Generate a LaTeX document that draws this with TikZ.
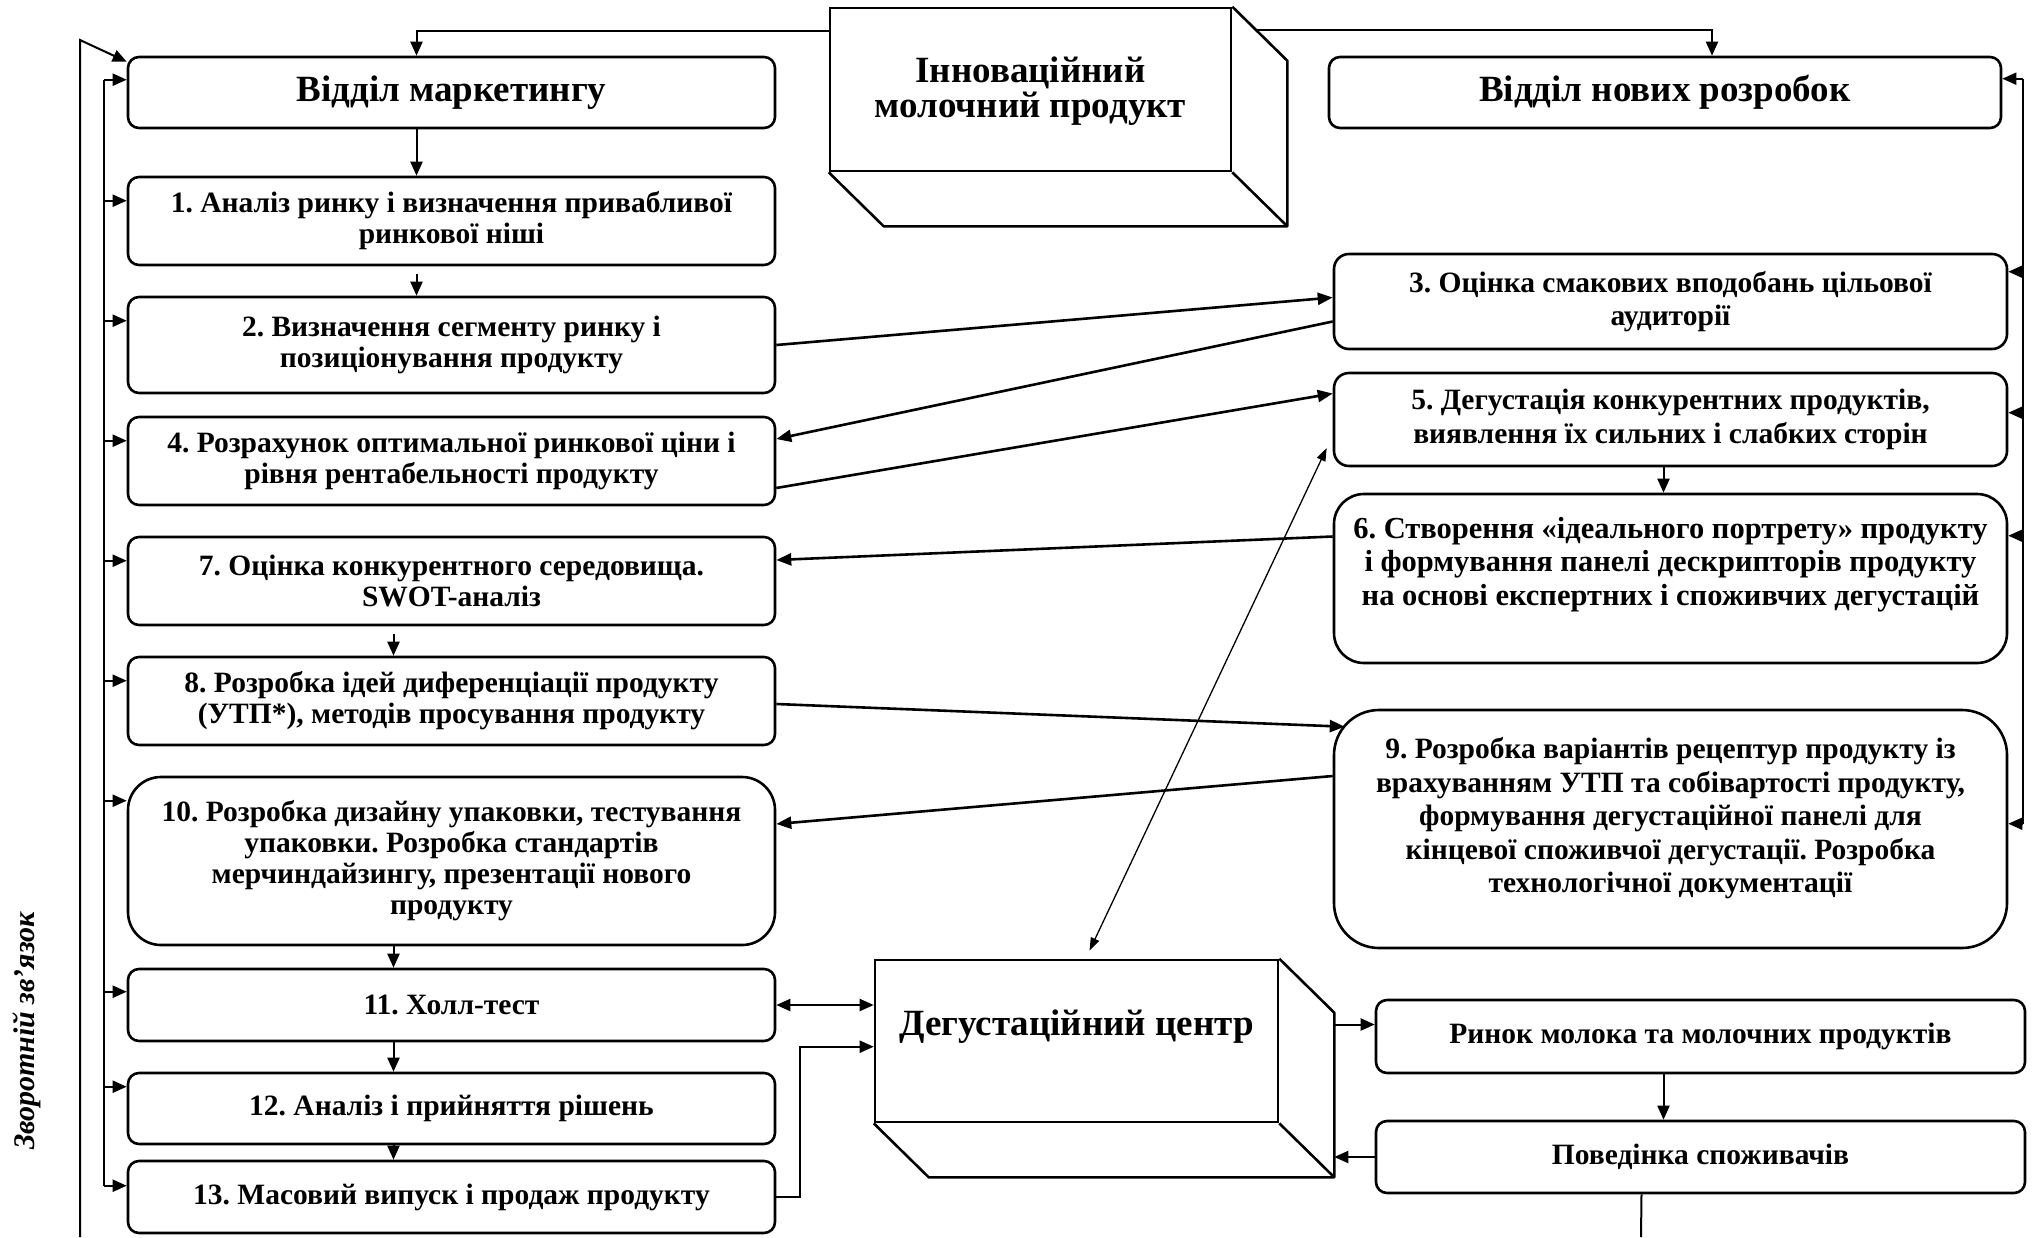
\documentclass[tikz,border=0pt]{standalone}
\usepackage{fontspec}
\setmainfont{Liberation Serif}
\usetikzlibrary{positioning, arrows.meta, calc}
\frenchspacing

\tikzset{
  box/.style={rectangle, rounded corners=11pt, draw, line width=2.6pt,
    align=center, inner sep=0pt,
    font=\bfseries\fontsize{29.5}{31}\selectfont},
  lbox/.style={box, minimum width=647pt},
  rbox/.style={box, minimum width=673pt,
    font=\bfseries\fontsize{29.5}{33.5}\selectfont},
  headbox/.style={font=\bfseries\fontsize{37}{35}\selectfont},
  cube/.style={rectangle, draw, line width=2.6pt, align=center,
    inner sep=0pt, font=\bfseries\fontsize{37}{35}\selectfont},
  cubeline/.style={line width=2.6pt, line join=round},
  arr/.style={-{Triangle[length=14pt,width=12pt]}, line width=2pt},
  darr/.style={{Triangle[length=14pt,width=12pt]}-{Triangle[length=14pt,width=12pt]}, line width=2pt},
  tarr/.style={{Triangle[length=13pt,width=9pt]}-{Triangle[length=13pt,width=9pt]}, line width=1.3pt},
  link/.style={-{Triangle[length=15pt,width=12pt]}, line width=2.6pt},
  bus/.style={line width=2pt}
}

\begin{document}
\begin{tikzpicture}[x=1pt, y=-1pt]
  \useasboundingbox (0,0) rectangle (2039,1237);

  % marketing column
  \node[lbox, headbox, minimum height=71pt] (mkt) at (451.5,92.5) {Відділ маркетингу};
  \node[lbox, minimum height=88pt] (b1) at (451.5,221) {1. Аналіз ринку і визначення привабливої\\ринкової ніші};
  \node[lbox, minimum height=96pt] (b2) at (451.5,345) {2. Визначення сегменту ринку і\\позиціонування продукту};
  \node[lbox, minimum height=88pt] (b4) at (451.5,461) {4. Розрахунок оптимальної ринкової ціни і\\рівня рентабельності продукту};
  \node[lbox, minimum height=88pt] (b7) at (451.5,581) {7. Оцінка конкурентного середовища.\\SWOT-аналіз};
  \node[lbox, minimum height=88pt] (b8) at (451.5,701) {8. Розробка ідей диференціації продукту\\(УТП*), методів просування продукту};
  \node[lbox, minimum height=168pt, rounded corners=33pt] (b10) at (451.5,861) {10. Розробка дизайну упаковки, тестування\\упаковки. Розробка стандартів\\мерчиндайзингу, презентації нового\\продукту};
  \node[lbox, minimum height=72pt] (b11) at (451.5,1005) {11. Холл-тест};
  \node[lbox, minimum height=71pt] (b12) at (451.5,1108.5) {12. Аналіз і прийняття рішень};
  \node[lbox, minimum height=72pt] (b13) at (451.5,1197) {13. Масовий випуск і продаж продукту};

  % new products column
  \node[rbox, headbox, minimum width=672pt, minimum height=71pt] (newdev) at (1665,92.5) {Відділ нових розробок};
  \node[rbox, minimum height=95pt, rounded corners=15pt] (r3) at (1670.5,301.5) {3. Оцінка смакових вподобань цільової\\аудиторії};
  \node[rbox, minimum height=93pt, rounded corners=15pt] (r5) at (1670.5,419.5) {5. Дегустація конкурентних продуктів,\\виявлення їх сильних і слабких сторін};
  \node[rbox, minimum height=169pt, rounded corners=30pt, text depth=35pt,
    font=\bfseries\fontsize{30.5}{33.5}\selectfont] (r6) at (1670.5,578.5) {6. Створення «ідеального портрету» продукту\\і формування панелі дескрипторів продукту\\на основі експертних і споживчих дегустацій};
  \node[rbox, minimum height=238pt, rounded corners=45pt, text depth=28pt] (r9) at (1670.5,829) {9. Розробка варіантів рецептур продукту із\\врахуванням УТП та собівартості продукту,\\формування дегустаційної панелі для\\кінцевої споживчої дегустації. Розробка\\технологічної документації};

  % cubes
  \node[cube, minimum width=401pt, minimum height=163pt, text depth=4pt] (innov) at (1030.5,89.5) {Інноваційний\\молочний продукт};
  \node[cube, minimum width=403pt, minimum height=162pt, text depth=36pt] (dc) at (1076.5,1041) {Дегустаційний центр};
  \coordinate (innovtr) at ($(innov.north east)+(55,54)$);
  \coordinate (innovbr) at ($(innov.south east)+(55,54)$);
  \coordinate (innovbl) at ($(innov.south west)+(55,54)$);
  \draw[cubeline] (innov.north east) -- (innovtr) -- (innovbr) -- (innovbl) -- (innov.south west)
    (innov.south east) -- (innovbr);
  \coordinate (dctr) at ($(dc.north east)+(55,54)$);
  \coordinate (dcbr) at ($(dc.south east)+(55,54)$);
  \coordinate (dcbl) at ($(dc.south west)+(55,54)$);
  \draw[cubeline] (dc.north east) -- (dctr) -- (dcbr) -- (dcbl) -- (dc.south west)
    (dc.south east) -- (dcbr);

  % market boxes
  \node[box, minimum width=649pt, minimum height=73pt] (market) at (1700.5,1036.5) {Ринок молока та молочних продуктів};
  \node[box, minimum width=649pt, minimum height=72pt] (behav) at (1700.5,1157) {Поведінка споживачів};

  % feedback label
  \node[rotate=90, font=\bfseries\itshape\fontsize{30}{32}\selectfont] (fback) at (27,1031) {Зворотній зв’язок};

  % from the product to both departments
  \draw[arr] ([yshift=-24pt]innov.north west) -| ([xshift=-35pt]mkt.north);
  \draw[arr] ($(innov.north east)!0.44!(innovtr)$) -| ([xshift=47pt]newdev.north);

  % down the columns
  \draw[arr] ([xshift=-35pt]mkt.south) -- ([xshift=-35pt]b1.north);
  \draw[arr] ([xshift=-35pt,yshift=-8pt]b1.south) -- ([xshift=-35pt]b2.north);
  \draw[arr] ([xshift=-58pt,yshift=-8pt]b7.south) -- ([xshift=-58pt]b8.north);
  \draw[arr] ([xshift=-58pt]b10.south) -- ([xshift=-58pt]b11.north);
  \draw[arr] ([xshift=-58pt]b11.south) -- ([xshift=-58pt]b12.north);
  \draw[arr] ([xshift=-58pt]b12.south) -- ([xshift=-58pt]b13.north);
  \draw[arr] ([xshift=-7pt]r5.south) -- ([xshift=-7pt]r6.north);

  % between the columns
  \draw[link] (b2.east) -- ([yshift=4pt]r3.west);
  \draw[link] ([yshift=-20pt]r3.west) -- ([yshift=22pt]b4.east);
  \draw[link] ([yshift=-27pt]b4.east) -- ([yshift=26pt]r5.west);
  \draw[link] ([yshift=42pt]r6.west) -- ([yshift=21pt]b7.east);
  \draw[link] ([yshift=-3pt]b8.east) -- ($(r9.north west)+(12,18)$);
  \draw[link] ([yshift=53pt]r9.west) -- ([yshift=37pt]b10.east);
  \draw[tarr] ($(r5.west)+(-6,28.5)$) -- ([xshift=13pt,yshift=8pt]dc.north);

  % tasting centre
  \draw[darr] (b11.east) -- (b11.east -| dc.west);
  \draw[arr] (b13.east) -- ++(24,0) |- ([yshift=-88pt]dc.north west);
  \draw[arr] ([yshift=12pt]market.west -| dctr) -- ([yshift=12pt]market.west);
  \draw[arr] ([xshift=-37pt]market.south) -- ([xshift=-37pt]behav.north);
  \draw[arr] (behav.west) -- (behav.west -| dctr);
  \coordinate (behavout) at (1641,1237);
  \draw[bus] ([xshift=-59pt]behav.south) -- (behavout);

  % feedback lines
  \coordinate (fbbot) at (80,1237);
  \coordinate (fbtop) at (80,40);
  \draw[arr] (fbbot) -- (fbtop) -- ([yshift=-6pt]mkt.north west);
  \coordinate (busx) at (104,0);
  \coordinate (busr) at (2023,0);
  \path ($(mkt.north west)+(0,24)$) coordinate (bustop);
  \path ($(b13.north west)+(0,26)$) coordinate (busbot);
  \draw[bus] (busx |- bustop) -- (busx |- busbot);
  \foreach \b/\d in {mkt/24, b1/25, b2/25, b4/25, b7/25, b8/25, b10/25, b11/24, b12/15, b13/26} {
    \path ($(\b.north west)+(0,\d)$) coordinate (tip);
    \draw[arr] (busx |- tip) -- (tip);
  }
  \path ($(newdev.north east)+(0,23)$) coordinate (rbustop);
  \path ($(r9.north east)+(0,115)$) coordinate (rbusbot);
  \draw[bus] (busr |- rbustop) -- (busr |- rbusbot);
  \foreach \b/\d in {newdev/23, r3/19, r5/41, r6/43, r9/115} {
    \path ($(\b.north east)+(0,\d)$) coordinate (tip);
    \draw[arr] (busr |- tip) -- (tip);
  }
\end{tikzpicture}
\end{document}
